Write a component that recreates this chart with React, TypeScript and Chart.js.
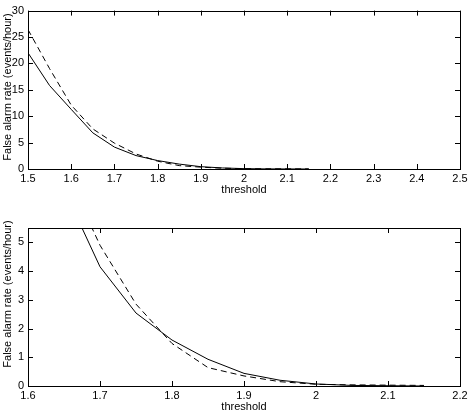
import React, { useEffect, useRef } from "react";
import { Chart, registerables } from "chart.js";

Chart.register(...registerables);

const thresholds = [1.5, 1.55, 1.6, 1.65, 1.7, 1.75, 1.8, 1.85, 1.9, 1.95, 2.0, 2.05, 2.1, 2.15];
const solidRate = [22.0, 15.8, 11.3, 6.85, 4.15, 2.54, 1.6, 0.93, 0.44, 0.2, 0.07, 0.02, 0.01, 0.0];
const dashedRate = [26.4, 19.0, 12.1, 7.6, 4.9, 2.85, 1.48, 0.64, 0.35, 0.15, 0.06, 0.04, 0.03, 0.02];

const xLabel = "threshold";
const yLabel = "False alarm rate (events/hour)";

const FONT = "'Liberation Sans', Arial, Helvetica, sans-serif";

const frame = {
  id: "frame",
  afterDraw(chart: any, _args: any, pluginOpts: any) {
    const { ctx, chartArea } = chart;
    const { left, right, top, bottom } = chartArea;
    const xs = chart.scales.x;
    const ys = chart.scales.y;
    const len = 5;
    ctx.save();
    ctx.strokeStyle = "#000";
    ctx.lineWidth = 1;
    ctx.beginPath();
    xs.ticks.forEach((t: any) => {
      const px = Math.round(xs.getPixelForValue(t.value)) + 0.5;
      ctx.moveTo(px, bottom);
      ctx.lineTo(px, bottom - len);
      ctx.moveTo(px, top);
      ctx.lineTo(px, top + len);
    });
    ys.ticks.forEach((t: any) => {
      const py = Math.round(ys.getPixelForValue(t.value)) + 0.5;
      ctx.moveTo(left, py);
      ctx.lineTo(left + len, py);
      ctx.moveTo(right, py);
      ctx.lineTo(right - len, py);
    });
    ctx.stroke();
    ctx.strokeRect(Math.round(left) + 0.5, Math.round(top) + 0.5, Math.round(right - left), Math.round(bottom - top));
    // y-axis title
    ctx.translate(8, pluginOpts.yTitleCenter);
    ctx.rotate(-Math.PI / 2);
    ctx.fillStyle = "#000";
    ctx.font = `11px ${FONT}`;
    ctx.textAlign = "center";
    ctx.textBaseline = "middle";
    ctx.fillText(yLabel, 0, 0);
    ctx.restore();
  },
};

function fmt(v: number) {
  return String(Number(v.toFixed(2)));
}

function makeConfig(opts: {
  xMin: number; xMax: number; yMin: number; yMax: number; yStep: number;
  padTop: number; padRight: number; xAxisH: number; xTitlePad: number; yTitleCenter: number;
}) {
  const solid = thresholds.map((x, i) => ({ x, y: solidRate[i] }));
  const dashed = thresholds.map((x, i) => ({ x, y: dashedRate[i] }));
  return {
    type: "line" as const,
    data: {
      datasets: [
        { data: solid, borderColor: "#000", borderWidth: 1, pointRadius: 0, tension: 0, fill: false },
        { data: dashed, borderColor: "#000", borderWidth: 1, borderDash: [6, 4], pointRadius: 0, tension: 0, fill: false },
      ],
    },
    options: {
      animation: false as const,
      responsive: false,
      devicePixelRatio: 1,
      layout: { padding: { top: opts.padTop, right: opts.padRight, left: 0, bottom: 0 } },
      plugins: {
        legend: { display: false },
        tooltip: { enabled: false },
        frame: { yTitleCenter: opts.yTitleCenter },
      },
      scales: {
        x: {
          type: "linear" as const,
          min: opts.xMin,
          max: opts.xMax,
          grid: { display: false, drawTicks: false },
          border: { display: false },
          ticks: {
            stepSize: 0.1,
            color: "#000",
            padding: 3,
            maxRotation: 0,
            autoSkip: false,
            includeBounds: false,
            font: { family: FONT, size: 11 },
            callback: (v: any) => fmt(Number(v)),
          },
          title: {
            display: true,
            text: xLabel,
            color: "#000",
            font: { family: FONT, size: 11 },
            padding: { top: 0, bottom: opts.xTitlePad },
          },
          afterFit: (s: any) => { s.height = opts.xAxisH; },
        },
        y: {
          min: opts.yMin,
          max: opts.yMax,
          grid: { display: false, drawTicks: false },
          border: { display: false },
          ticks: {
            stepSize: opts.yStep,
            color: "#000",
            padding: 4,
            includeBounds: false,
            font: { family: FONT, size: 11 },
            callback: (v: any) => fmt(Number(v)),
          },
          title: { display: false },
          afterFit: (s: any) => { s.width = 28; },
        },
      },
    },
    plugins: [frame],
  };
}

export default function App() {
  const topRef = useRef<HTMLCanvasElement>(null);
  const botRef = useRef<HTMLCanvasElement>(null);
  useEffect(() => {
    const c1 = new Chart(topRef.current!, makeConfig({
      xMin: 1.5, xMax: 2.5, yMin: 0, yMax: 30, yStep: 5,
      padTop: 10, padRight: 11, xAxisH: 38, xTitlePad: 10.4, yTitleCenter: 87,
    }) as any);
    const c2 = new Chart(botRef.current!, makeConfig({
      xMin: 1.6, xMax: 2.2, yMin: 0, yMax: 5.5, yStep: 1,
      padTop: 21, padRight: 11, xAxisH: 29, xTitlePad: 1.4, yTitleCenter: 87,
    }) as any);
    return () => { c1.destroy(); c2.destroy(); };
  }, []);
  return (
    <div style={{ position: "absolute", left: 0, top: 0, width: 471, height: 415, background: "#fff" }}>
      <canvas ref={topRef} width={471} height={207} style={{ display: "block", width: 471, height: 207 }} />
      <canvas ref={botRef} width={471} height={208} style={{ display: "block", width: 471, height: 208 }} />
    </div>
  );
}
